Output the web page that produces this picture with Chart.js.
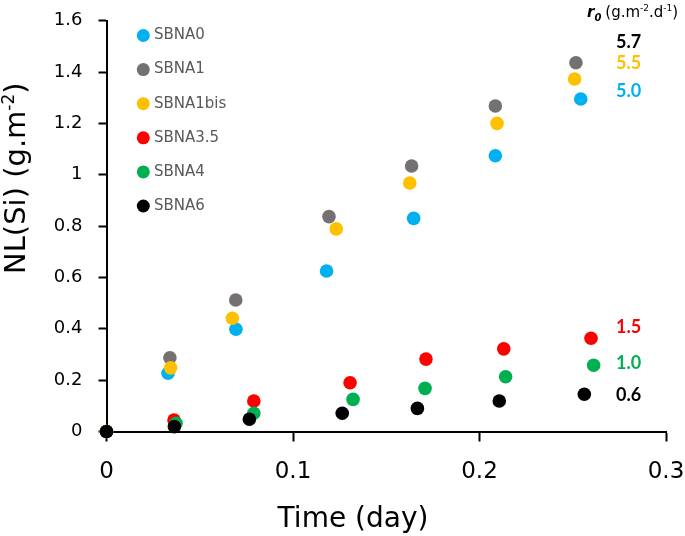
<!DOCTYPE html>
<html>
<head>
<meta charset="utf-8">
<script src="https://cdn.jsdelivr.net/npm/chart.js@4/dist/chart.umd.min.js"></script>
<style>
html, body { margin: 0; padding: 0; background: #fff; }
</style>
</head>
<body>
<canvas id="chartCanvas" width="685" height="536"></canvas>
<script>
// series names and r0 values (g.m-2.d-1)
let seriesNames = ['SBNA0', 'SBNA1', 'SBNA1bis', 'SBNA3.5', 'SBNA4', 'SBNA6'];
let rates = ['5.0', '5.7', '5.5', '1.5', '1.0', '0.6'];

// time (day) and NL(Si) (g.m-2) for each sample
let timeSBNA0 = [0, 0.033, 0.0694, 0.118, 0.1647, 0.2085, 0.2543];
let nlSBNA0 = [0, 0.227, 0.398, 0.625, 0.830, 1.074, 1.295];
let timeSBNA1 = [0, 0.034, 0.0693, 0.1193, 0.1636, 0.2085, 0.2517];
let nlSBNA1 = [0, 0.287, 0.512, 0.837, 1.034, 1.268, 1.436];
let timeSBNA1bis = [0, 0.0344, 0.0675, 0.1232, 0.1626, 0.2094, 0.251];
let nlSBNA1bis = [0, 0.248, 0.441, 0.789, 0.968, 1.200, 1.373];
let timeSBNA35 = [0, 0.0362, 0.079, 0.1306, 0.1713, 0.213, 0.2598];
let nlSBNA35 = [0, 0.045, 0.119, 0.190, 0.282, 0.322, 0.363];
let timeSBNA4 = [0, 0.0373, 0.079, 0.1322, 0.1708, 0.214, 0.2612];
let nlSBNA4 = [0, 0.032, 0.071, 0.125, 0.168, 0.213, 0.258];
let timeSBNA6 = [0, 0.0364, 0.0766, 0.1264, 0.1667, 0.2106, 0.2562];
let nlSBNA6 = [0, 0.019, 0.048, 0.071, 0.090, 0.119, 0.145];

let allTimes = [timeSBNA0, timeSBNA1, timeSBNA1bis, timeSBNA35, timeSBNA4, timeSBNA6];
let allValues = [nlSBNA0, nlSBNA1, nlSBNA1bis, nlSBNA35, nlSBNA4, nlSBNA6];

let colors = ['#00B0F0', '#767171', '#FFC000', '#FF0000', '#00B050', '#000000'];
let rateColors = ['#00B0F0', '#000000', '#FFC000', '#FF0000', '#00B050', '#000000'];
let rateLabelY = [1.327, 1.518, 1.435, 0.408, 0.266, 0.142];

let font = 'DejaVu Sans';

let datasets = seriesNames.map(function (name, i) {
    return {
        label: name,
        data: allTimes[i].map(function (t, j) { return { x: t, y: allValues[i][j] }; }),
        backgroundColor: colors[i],
        borderWidth: 0,
        pointRadius: 6.8,
        pointHoverRadius: 6.8,
        showLine: false,
        clip: false,
        order: seriesNames.length - 1 - i
    };
});

function fmt(v) {
    return String(Number(v.toFixed(1)));
}

let extras = {
    id: 'extras',
    afterDraw: function (chart) {
        let ctx = chart.ctx;
        let xs = chart.scales.x;
        let ys = chart.scales.y;
        ctx.save();

        // legend inside plot
        chart.data.datasets.forEach(function (ds, i) {
            let y = 35.5 + i * 34.1;
            ctx.fillStyle = ds.backgroundColor;
            ctx.beginPath();
            ctx.arc(143.3, y, 6.5, 0, Math.PI * 2);
            ctx.fill();
            ctx.fillStyle = '#595959';
            ctx.font = '15px "' + font + '"';
            ctx.textAlign = 'left';
            ctx.textBaseline = 'middle';
            ctx.fillText(ds.label, 154, y);
        });

        // r0 values
        ctx.font = 'bold 18px Lato';
        ctx.textAlign = 'center';
        ctx.textBaseline = 'middle';
        rates.forEach(function (r, i) {
            ctx.fillStyle = rateColors[i];
            ctx.fillText(r, xs.getPixelForValue(0.28), ys.getPixelForValue(rateLabelY[i]));
        });

        // r0 header
        ctx.fillStyle = '#000';
        ctx.textAlign = 'left';
        ctx.textBaseline = 'alphabetic';
        let x = 587;
        ctx.font = 'italic bold 15px "' + font + '"';
        ctx.fillText('r', x, 17);
        x += ctx.measureText('r').width;
        ctx.font = 'italic bold 10px "' + font + '"';
        ctx.fillText('0', x, 21);
        x += ctx.measureText('0').width + 4;
        let parts = [['(g.m', 0], ['-2', 1], ['.d', 0], ['-1', 1], [')', 0]];
        parts.forEach(function (p) {
            ctx.font = (p[1] ? '9px "' : '15px "') + font + '"';
            ctx.fillText(p[0], x, p[1] ? 11 : 17);
            x += ctx.measureText(p[0]).width;
        });

        // x title
        ctx.font = '28px "' + font + '"';
        ctx.textAlign = 'center';
        ctx.fillText('Time (day)', 353, 526.7);

        // y title
        ctx.translate(25, 274);
        ctx.rotate(-Math.PI / 2);
        ctx.textAlign = 'left';
        x = 0;
        let yparts = [['NL(Si) (g.m', 0], ['-2', 1], [')', 0]];
        yparts.forEach(function (p) {
            ctx.font = (p[1] ? '17px "' : '29px "') + font + '"';
            ctx.fillText(p[0], x, p[1] ? -11 : 0);
            x += ctx.measureText(p[0]).width;
        });

        ctx.restore();
    }
};

let ctx = document.getElementById('chartCanvas').getContext('2d');
let chart = new Chart(ctx, {
    type: 'scatter',
    data: { datasets: datasets },
    options: {
        responsive: false,
        animation: false,
        devicePixelRatio: 1,
        layout: { autoPadding: false, padding: { left: 0, right: 19, top: 20.7, bottom: 0 } },
        plugins: {
            legend: { display: false },
            tooltip: { enabled: false }
        },
        scales: {
            x: {
                type: 'linear',
                min: 0,
                max: 0.3,
                afterFit: function (scale) {
                    scale.height = 104.5;
                    scale.paddingLeft = 0;
                    scale.paddingRight = 0;
                },
                ticks: {
                    stepSize: 0.1,
                    color: '#000',
                    padding: 17,
                    font: { family: font, size: 23 },
                    callback: function (v) { return fmt(v); }
                },
                grid: { display: true, drawOnChartArea: false, drawTicks: true, tickLength: 10, tickColor: '#000', tickWidth: 2 },
                border: { display: true, color: '#000', width: 2 }
            },
            y: {
                type: 'linear',
                min: 0,
                max: 1.6,
                afterFit: function (scale) {
                    scale.width = 106.5;
                    scale.paddingTop = 0;
                    scale.paddingBottom = 0;
                },
                ticks: {
                    stepSize: 0.2,
                    color: '#000',
                    padding: 16,
                    font: { family: font, size: 18 },
                    callback: function (v) { return fmt(v); }
                },
                grid: { display: true, drawOnChartArea: false, drawTicks: true, tickLength: 8, tickColor: '#000', tickWidth: 2 },
                border: { display: true, color: '#000', width: 2 }
            }
        }
    },
    plugins: [extras]
});
</script>
</body>
</html>
